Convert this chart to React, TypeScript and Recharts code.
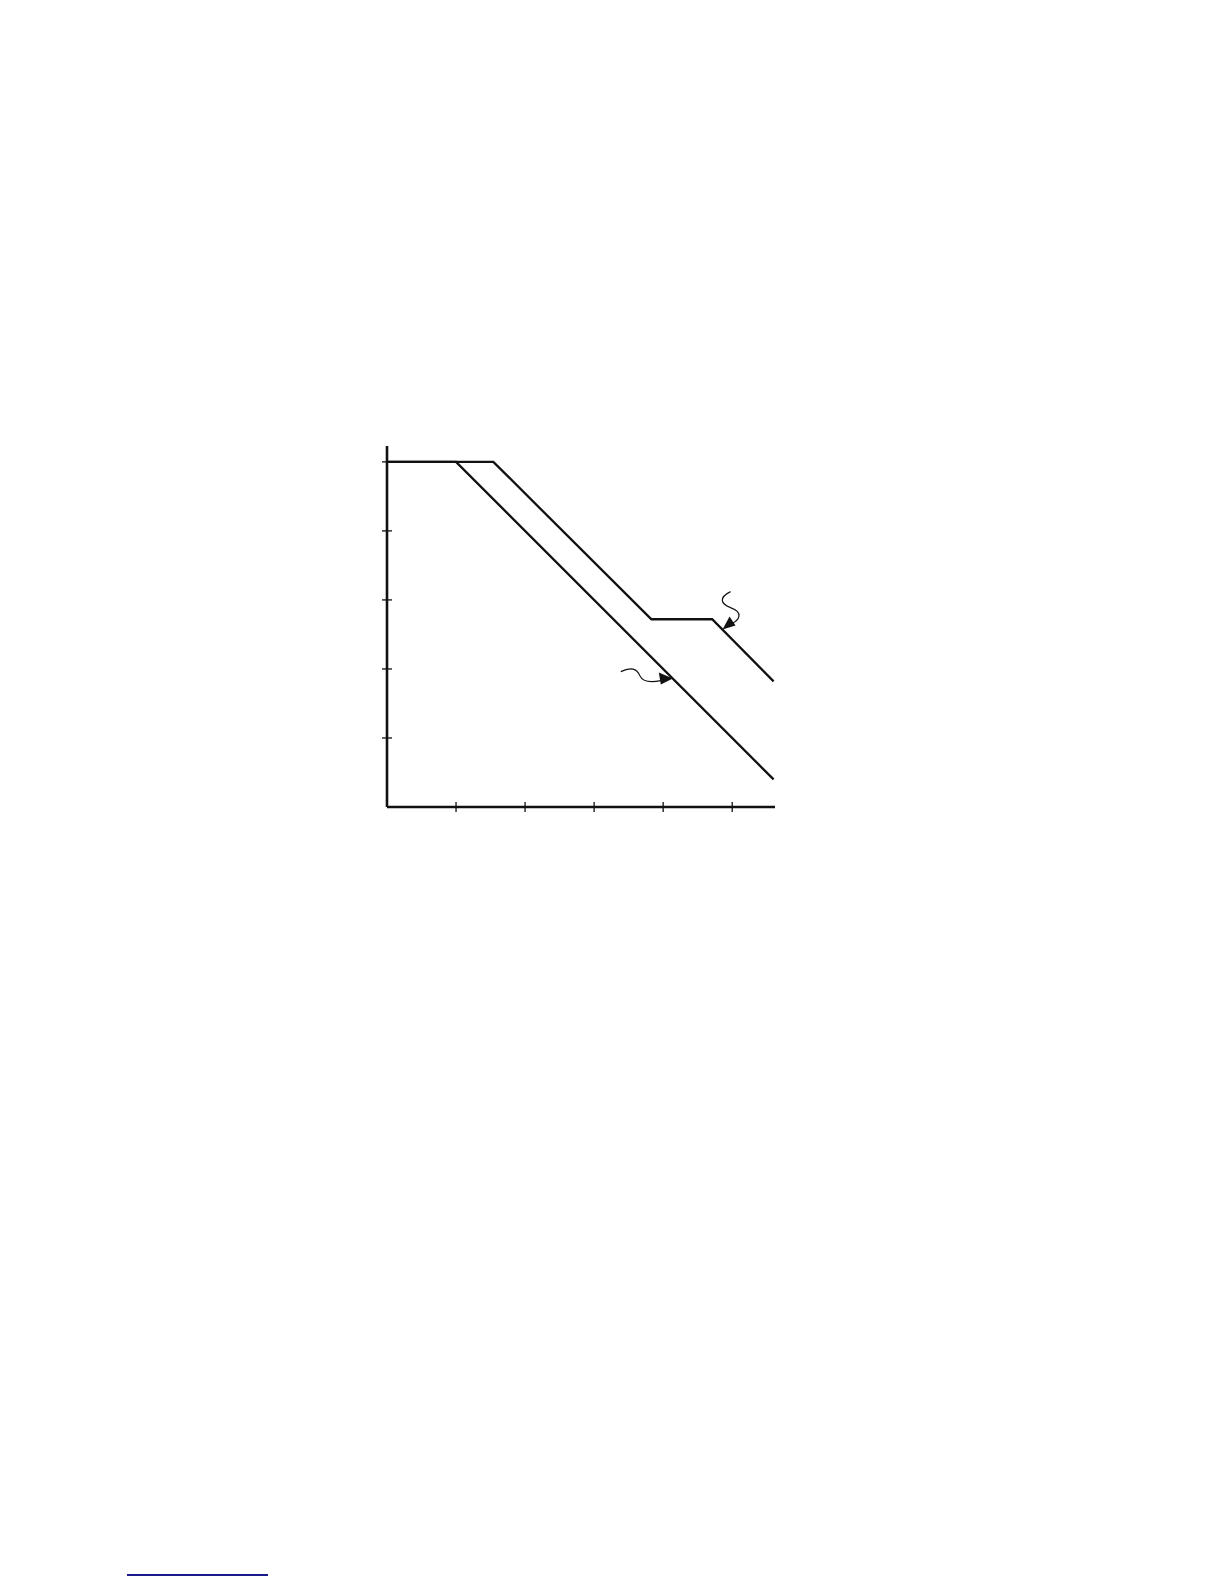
import { LineChart, Line, XAxis, YAxis, ReferenceDot } from "recharts";

// lower curve: flat until x=1, then falls with slope -1
const lowerX = [0, 1, 5.6];
const lowerY = [5, 5, 0.4];

// upper curve: flat, fall, plateau, fall again
const upperX = [0, 1.54, 3.83, 4.71, 5.6];
const upperY = [5, 5, 2.72, 2.72, 1.82];

const xTicks = [1, 2, 3, 4, 5];
const yTicks = [1, 2, 3, 4, 5];

// arrow tips pointing at each curve
const upperArrow = { x: 4.86, y: 2.57 };
const lowerArrow = { x: 4.14, y: 1.86 };

const INK = "#111";

const lowerData = lowerX.map((x, i) => ({ x, y: lowerY[i] }));
const upperData = upperX.map((x, i) => ({ x, y: upperY[i] }));

const XTick = ({ x, y }: any) => (
  <line x1={x} x2={x} y1={y - 5} y2={y + 5} stroke={INK} strokeWidth={1.3} />
);

const YTick = ({ x, y }: any) => (
  <line x1={x - 5} x2={x + 5} y1={y} y2={y} stroke={INK} strokeWidth={1.3} />
);

// wavy leader coming from above, arrowhead pointing down-left
const UpperPointer = ({ cx, cy }: any) => (
  <g>
    <path
      d={`M ${cx + 8} ${cy - 38} C ${cx - 4} ${cy - 32}, ${cx - 2} ${cy - 26}, ${cx + 8} ${cy - 22} C ${cx + 22} ${cy - 17}, ${cx + 16} ${cy - 9}, ${cx + 9} ${cy - 6}`}
      fill="none"
      stroke={INK}
      strokeWidth={1.2}
    />
    <path
      d={`M ${cx} ${cy} L ${cx + 7} ${cy - 13} L ${cx + 13} ${cy - 4} Z`}
      fill={INK}
    />
  </g>
);

// wavy leader coming from the left, arrowhead pointing right
const LowerPointer = ({ cx, cy }: any) => (
  <g>
    <path
      d={`M ${cx - 52} ${cy - 7} C ${cx - 42} ${cy - 12}, ${cx - 36} ${cy - 10}, ${cx - 33} ${cy - 3} C ${cx - 30} ${cy + 4}, ${cx - 22} ${cy + 4}, ${cx - 12} ${cy + 2}`}
      fill="none"
      stroke={INK}
      strokeWidth={1.2}
    />
    <path
      d={`M ${cx} ${cy} L ${cx - 14} ${cy - 6} L ${cx - 12} ${cy + 6} Z`}
      fill={INK}
    />
  </g>
);

const App = () => {
  return (
    <div
      style={{
        position: "absolute",
        left: 0,
        top: 0,
        width: 1224,
        height: 1584,
        background: "#fff",
        overflow: "hidden",
      }}
    >
      <div style={{ position: "absolute", left: 337, top: 420 }}>
        <LineChart
          width={460}
          height={420}
          margin={{ top: 26, right: 22, bottom: 23, left: 40 }}
        >
          <XAxis
            dataKey="x"
            type="number"
            domain={[0, 5.62]}
            ticks={xTicks}
            height={10}
            tickSize={0}
            tickMargin={0}
            tickLine={false}
            tick={<XTick />}
            axisLine={{ stroke: INK, strokeWidth: 2.6 }}
          />
          <YAxis
            type="number"
            domain={[0, 5.23]}
            ticks={yTicks}
            width={10}
            tickSize={0}
            tickMargin={0}
            tickLine={false}
            tick={<YTick />}
            axisLine={{ stroke: INK, strokeWidth: 2.6 }}
          />
          <Line
            data={lowerData}
            dataKey="y"
            type="linear"
            stroke={INK}
            strokeWidth={2.3}
            dot={false}
            isAnimationActive={false}
          />
          <Line
            data={upperData}
            dataKey="y"
            type="linear"
            stroke={INK}
            strokeWidth={2.3}
            dot={false}
            isAnimationActive={false}
          />
          <ReferenceDot
            x={upperArrow.x}
            y={upperArrow.y}
            shape={<UpperPointer />}
          />
          <ReferenceDot
            x={lowerArrow.x}
            y={lowerArrow.y}
            shape={<LowerPointer />}
          />
        </LineChart>
      </div>
      {/* stray link underline at page foot */}
      <div
        style={{
          position: "absolute",
          left: 127,
          top: 1574,
          width: 141,
          height: 2,
          background: "#1a1a8c",
        }}
      />
    </div>
  );
};

export default App;
